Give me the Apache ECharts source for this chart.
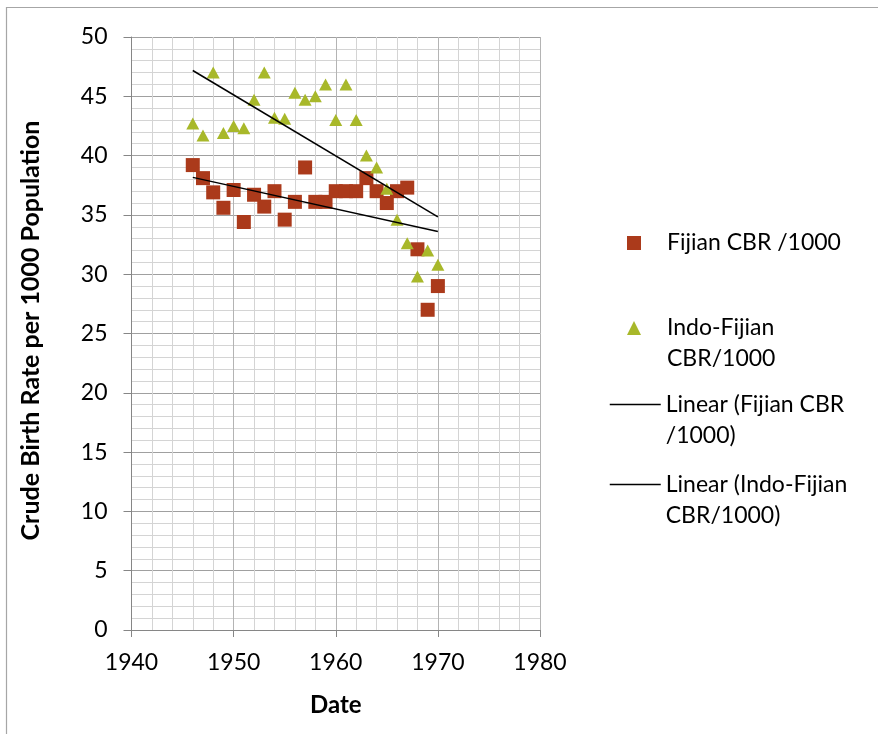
<!DOCTYPE html>
<html>
<head>
<meta charset="utf-8">
<script src="https://cdn.jsdelivr.net/npm/echarts@6/dist/echarts.min.js"></script>
<style>html,body{margin:0;padding:0;background:#fff}#c{width:878px;height:734px}</style>
</head>
<body>
<div id="c"></div>
<script>
const years = [1946,1947,1948,1949,1950,1951,1952,1953,1954,1955,1956,1957,1958,1959,1960,1961,1962,1963,1964,1965,1966,1967,1968,1969,1970];
const fijianCBR = [39.2,38.1,36.9,35.6,37.1,34.4,36.7,35.7,37.0,34.6,36.1,39.0,36.1,36.1,37.0,37.0,37.0,38.1,37.0,36.0,37.0,37.3,32.1,27.0,29.0];
const indoFijianCBR = [42.7,41.7,47.0,41.9,42.5,42.3,44.7,47.0,43.2,43.1,45.3,44.7,45.0,46.0,43.0,46.0,43.0,40.0,39.0,37.2,34.6,32.6,29.8,32.0,30.8];
const xTickLabels = [1940,1950,1960,1970,1980];
const yTickLabels = [0,5,10,15,20,25,30,35,40,45,50];
const seriesNames = ['Fijian CBR /1000','Indo-Fijian CBR/1000','Linear (Fijian CBR /1000)','Linear (Indo-Fijian CBR/1000)'];
const legendLabels = ['Fijian CBR /1000','Indo-Fijian\nCBR/1000','Linear (Fijian CBR\n/1000)','Linear (Indo-Fijian\nCBR/1000)'];

function trend(xs, ys){
  const n = xs.length;
  let sx=0, sy=0, sxx=0, sxy=0;
  for(let i=0;i<n;i++){sx+=xs[i];sy+=ys[i];sxx+=xs[i]*xs[i];sxy+=xs[i]*ys[i];}
  const b=(n*sxy-sx*sy)/(n*sxx-sx*sx), a=(sy-b*sx)/n;
  const x0=xs[0], x1=xs[n-1];
  return [[x0,a+b*x0],[x1,a+b*x1]];
}

const FONT = 'Lato';
const chart = echarts.init(document.getElementById('c'), null, {renderer:'canvas'});
const legendText = {fontFamily:FONT, fontSize:23, color:'#000', lineHeight:31};
// multi-line legend labels: a leading blank line keeps the icon level with the first text line
function lg(i){ return legendLabels[i].indexOf('\n')>=0 ? '\n'+legendLabels[i] : legendLabels[i]; }
const option = {
  animation:false,
  backgroundColor:'#fff',
  graphic:[{type:'rect', shape:{x:6.5,y:7.5,width:900,height:800}, style:{fill:'none', stroke:'#a6a6a6', lineWidth:1.2}, silent:true}],
  grid:{left:131.5, right:338, top:37, bottom:104, containLabel:false},
  xAxis:{
    type:'value', min:xTickLabels[0], max:xTickLabels[xTickLabels.length-1], interval:10,
    name:'Date', nameLocation:'middle', nameGap:63,
    nameTextStyle:{fontFamily:FONT, fontSize:24, fontWeight:'bold', color:'#000'},
    axisLine:{show:true, onZero:false, lineStyle:{color:'#868686', width:1}},
    axisTick:{show:true, inside:false, length:7, lineStyle:{color:'#868686'}},
    axisLabel:{fontFamily:FONT, fontSize:23, color:'#000', margin:21, formatter:v=>String(v)},
    splitLine:{show:true, lineStyle:{color:'#b4b4b4', width:1}},
    minorTick:{show:false, splitNumber:5},
    minorSplitLine:{show:true, lineStyle:{color:'#d4d4d4', width:1}}
  },
  yAxis:{
    type:'value', min:yTickLabels[0], max:yTickLabels[yTickLabels.length-1], interval:5,
    name:'Crude Birth Rate per 1000 Population', nameLocation:'middle', nameGap:88, nameRotate:90,
    nameTextStyle:{fontFamily:FONT, fontSize:25, fontWeight:'bold', color:'#000', padding:[0,0,0,6]},
    axisLine:{show:true, lineStyle:{color:'#868686', width:1}},
    axisTick:{show:true, inside:false, length:8, lineStyle:{color:'#868686'}},
    axisLabel:{fontFamily:FONT, fontSize:23, color:'#000', margin:24},
    splitLine:{show:true, lineStyle:{color:'#a0a0a0', width:1}},
    minorTick:{show:false, splitNumber:5},
    minorSplitLine:{show:true, lineStyle:{color:'#d4d4d4', width:1}}
  },
  legend:[
    {data:[seriesNames[0]], orient:'vertical', left:627, top:227.5, padding:0, itemWidth:14, itemHeight:14,
     formatter:()=>lg(0), textStyle:Object.assign({}, legendText, {padding:[0,0,0,21]})},
    {data:[seriesNames[1]], orient:'vertical', left:627, top:281.5, padding:0, itemWidth:14, itemHeight:14,
     formatter:()=>lg(1), textStyle:Object.assign({}, legendText, {padding:[0,0,0,21]})},
    {data:[seriesNames[2]], orient:'vertical', left:609, top:358, padding:0, itemWidth:51, itemHeight:14,
     itemStyle:{opacity:0}, lineStyle:{color:'#000', width:1.5},
     formatter:()=>lg(2), textStyle:legendText},
    {data:[seriesNames[3]], orient:'vertical', left:609, top:438, padding:0, itemWidth:51, itemHeight:14,
     itemStyle:{opacity:0}, lineStyle:{color:'#000', width:1.5},
     formatter:()=>lg(3), textStyle:legendText}
  ],
  series:[
    {name:seriesNames[0], type:'scatter', symbol:'rect', symbolSize:14, symbolKeepAspect:true,
     itemStyle:{color:'#ab3a1b', opacity:1}, data:years.map((y,i)=>[y,fijianCBR[i]]), z:3},
    {name:seriesNames[1], type:'scatter', symbol:'triangle', symbolSize:[13,12], symbolKeepAspect:true,
     itemStyle:{color:'#a8b82a', opacity:1}, data:years.map((y,i)=>[y,indoFijianCBR[i]]), z:4},
    {name:seriesNames[2], type:'line', symbol:'none', lineStyle:{color:'#000', width:1.5},
     itemStyle:{color:'#000'}, data:trend(years,fijianCBR), z:5},
    {name:seriesNames[3], type:'line', symbol:'none', lineStyle:{color:'#000', width:1.5},
     itemStyle:{color:'#000'}, data:trend(years,indoFijianCBR), z:5}
  ]
};
chart.setOption(option);
</script>
</body>
</html>
